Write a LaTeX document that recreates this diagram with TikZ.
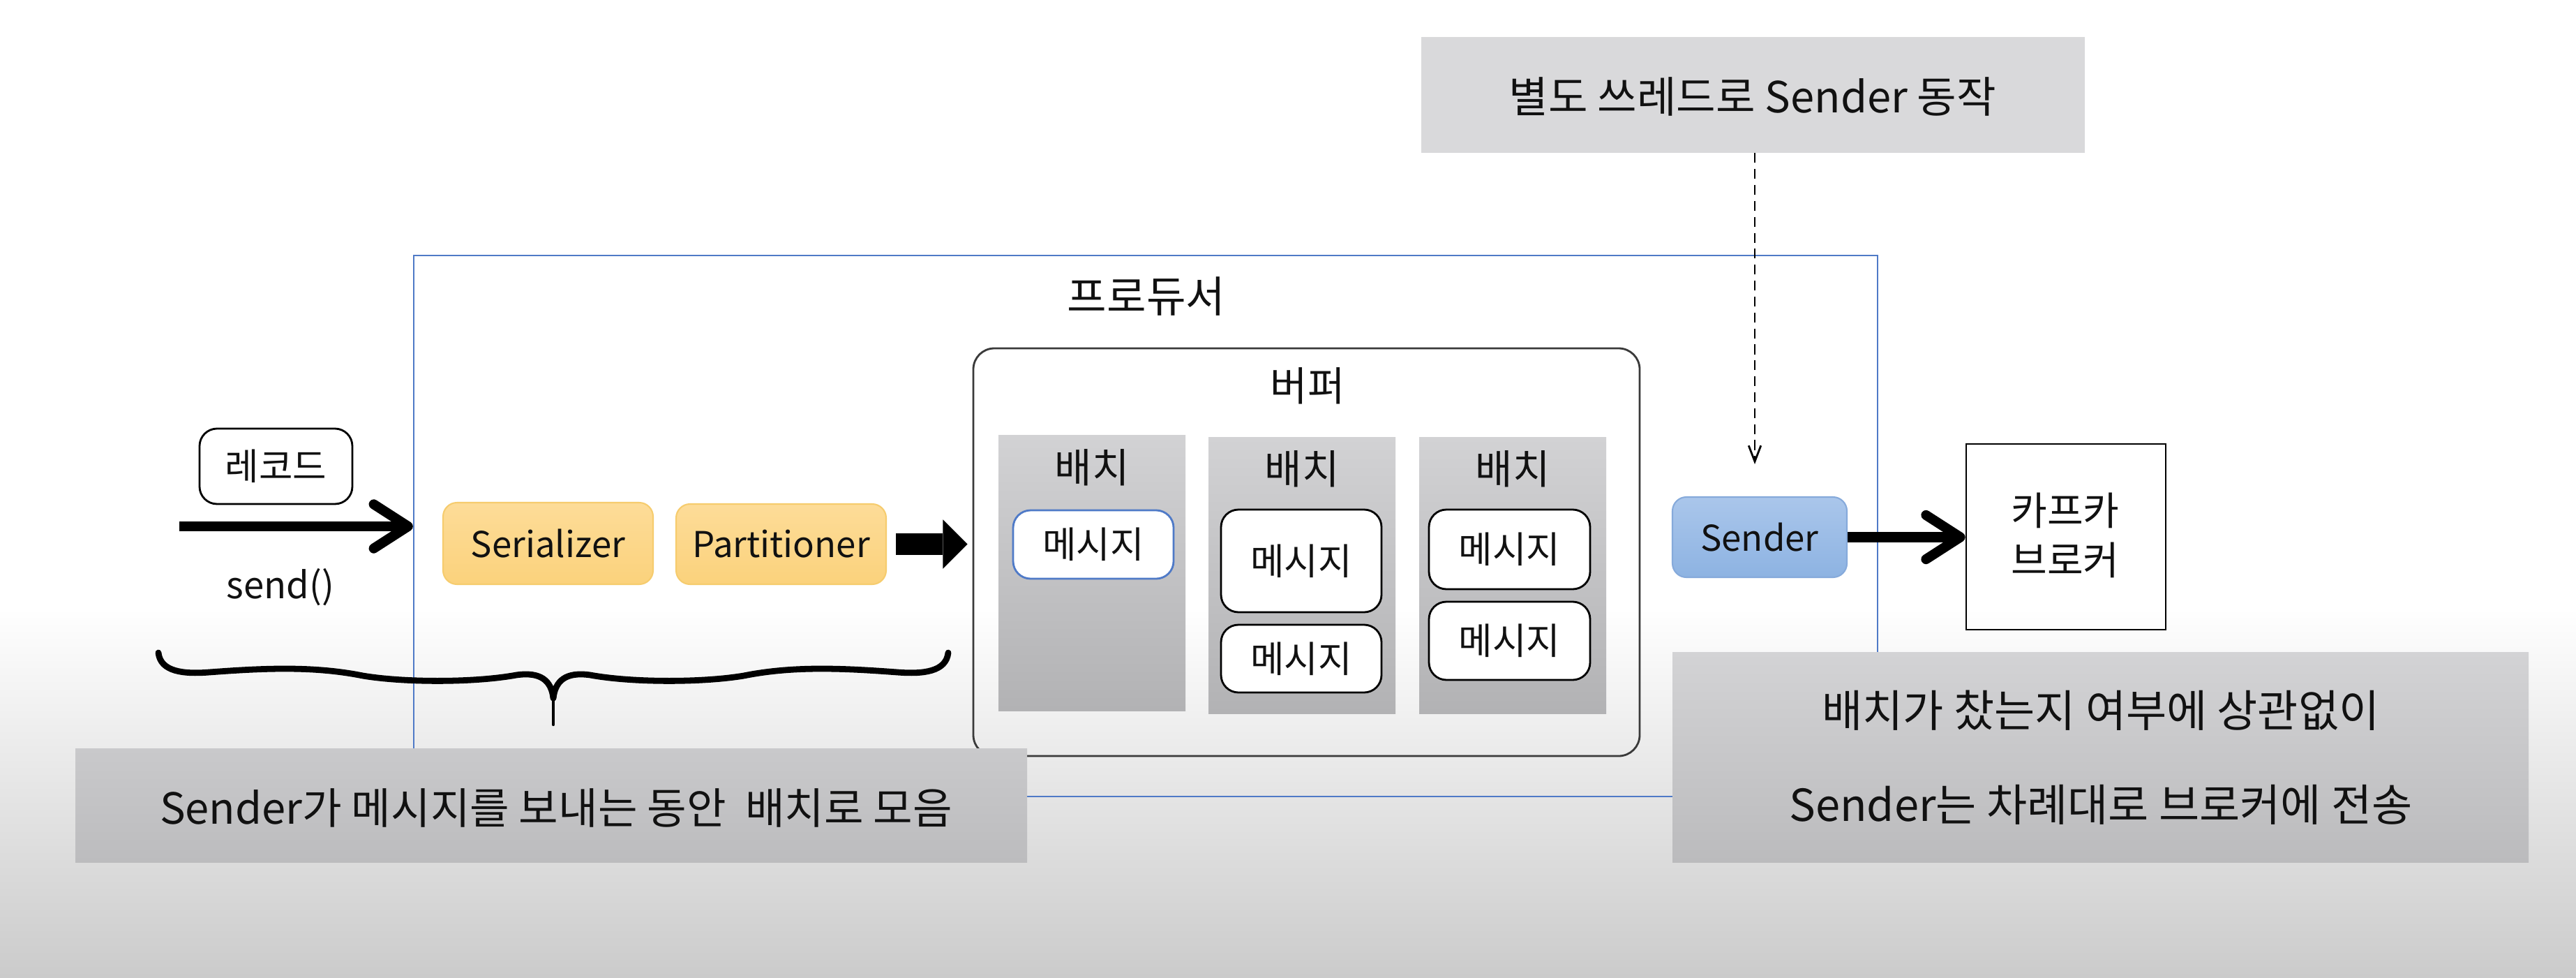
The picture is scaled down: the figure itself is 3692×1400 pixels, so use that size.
\documentclass[tikz,border=0pt]{standalone}
\usepackage{fontspec}
\setmainfont{Noto Sans CJK KR}
\usetikzlibrary{arrows.meta,fit}
\definecolor{prodblue}{HTML}{4F7AC7}
\definecolor{bgbot}{HTML}{CBCBCB}
\definecolor{notetop}{HTML}{D9D9DB}
\definecolor{blTop}{HTML}{C9C9CB}
\definecolor{blBot}{HTML}{BCBCBE}
\definecolor{brTop}{HTML}{D3D3D5}
\definecolor{brBot}{HTML}{BBBBBD}
\definecolor{batchTop}{HTML}{D2D2D4}
\definecolor{batchBot}{HTML}{B2B2B4}
\definecolor{serTop}{HTML}{FDDC98}
\definecolor{serBot}{HTML}{FBD27C}
\definecolor{serLine}{HTML}{F6CC6E}
\definecolor{sndTop}{HTML}{AAC6EB}
\definecolor{sndBot}{HTML}{8DB3E2}
\definecolor{sndLine}{HTML}{86AADB}
\definecolor{bufLine}{HTML}{3A3A3A}
\definecolor{ink}{HTML}{111111}
\begin{document}
\begin{tikzpicture}[x=0.02cm,y=-0.02cm,
  every node/.style={text=ink},
  fbox/.style={inner sep=0pt},
  notetext/.style={font=\fontsize{35}{77}\selectfont, align=center},
  msgbox/.style={fbox, draw=black, line width=1.6pt, fill=white, rounded corners=0.5cm},
  msgtext/.style={font=\fontsize{30}{34}\selectfont},
  batchbox/.style={fbox, top color=batchTop, bottom color=batchBot},
  yellowbox/.style={fbox, draw=serLine, line width=1.2pt, top color=serTop, bottom color=serBot, rounded corners=0.4cm},
  bluebox/.style={fbox, draw=sndLine, line width=1.2pt, top color=sndTop, bottom color=sndBot, rounded corners=0.4cm},
  engtext/.style={font=\fontsize{29}{34}\selectfont},
  lbl/.style={font=\fontsize{33}{38}\selectfont},
  thickarrow/.style={line width=8pt, -{Straight Barb[length=28pt,width=36pt,round]}},
  blockarrow/.style={line width=17.6pt, -{Triangle[length=20pt,width=40pt,line width=0pt]}},
  brace/.style={line width=5pt, line cap=round, line join=round}
]
\useasboundingbox (0,0) rectangle (3692,1400);
% background
\fill[white] (0,0) rectangle (3692,1400);
\shade[top color=white, bottom color=bgbot] (0,870) rectangle (3692,1400);

% producer frame
\node[fbox, draw=prodblue, line width=1.3pt, fit={(593,366) (2691,1141)}] (producer) {};
\node[font=\fontsize{35}{40}\selectfont] (prodlabel) at (1643,424) {프로듀서};

% buffer
\node[fbox, draw=bufLine, line width=1.6pt, rounded corners=0.6cm, fit={(1395,499) (2350,1083)}] (buffer) {};
\node[lbl] (buflabel) at (1874,553) {버퍼};

% batches
\node[batchbox, fit={(1431,623) (1699,1018)}] (batch1) {};
\node[batchbox, fit={(1732,626) (2000,1022)}] (batch2) {};
\node[batchbox, fit={(2034,626) (2302,1022)}] (batch3) {};
\node[lbl] (b1label) at (1565,670) {배치};
\node[lbl] (b2label) at (1866,672) {배치};
\node[lbl] (b3label) at (2168,672) {배치};

% messages
\node[msgbox, draw=prodblue, fit={(1452,731) (1682,829)}] (m11) {};
\node[msgbox, fit={(1750,730) (1980,877)}] (m21) {};
\node[msgbox, fit={(1750,895) (1980,992)}] (m22) {};
\node[msgbox, fit={(2048,730) (2279,844)}] (m31) {};
\node[msgbox, fit={(2048,862) (2279,974)}] (m32) {};
\node[msgtext] (m11t) at (m11.center) {메시지};
\node[msgtext] (m21t) at (m21.center) {메시지};
\node[msgtext] (m22t) at (m22.center) {메시지};
\node[msgtext] (m31t) at (m31.center) {메시지};
\node[msgtext] (m32t) at (m32.center) {메시지};

% record
\node[msgbox, fit={(286,614) (505,722)}] (record) {};
\node[msgtext] (recordt) at (record.center) {레코드};
\coordinate (recstart) at (257,754);
\draw[thickarrow] (recstart) -- (recstart -| producer.west);
\node[font=\fontsize{30}{34}\selectfont] (send) at (402,841) {send()};

% serializer, partitioner
\node[yellowbox, fit={(635,720) (936,837)}] (serializer) {};
\node[engtext] (sert) at (serializer.center) {Serializer};
\node[yellowbox, fit={(969,722) (1270,837)}] (partitioner) {};
\node[engtext] (partt) at (partitioner.center) {Partitioner};
\draw[blockarrow, shorten <=7.4pt, shorten >=4pt] (partitioner.east) -- (buffer.west |- partitioner.east);

% sender and broker
\node[bluebox, fit={(2397,712) (2647,827)}] (sender) {};
\node[engtext] (sendert) at (sender.center) {Sender};
\node[fbox, draw=black, line width=1.6pt, fit={(2818,636) (3104,902)}] (kafka) {};
\node[align=center, font=\fontsize{32}{40}\selectfont] (kafkat) at (2960,767) {카프카\\브로커};
\draw[thickarrow] (sender.east) -- (sender.east -| kafka.west);

% top note and dashed arrow
\node[fbox, fill=notetop, fit={(2037,53) (2988,219)}] (topnote) {};
\node[notetext] (topnotet) at (2512,138) {별도 쓰레드로 Sender 동작};
\coordinate (dtip) at (2515,665);
\draw[line width=1.6pt, dash pattern=on 8pt off 5pt, -{Straight Barb[length=13pt,width=10pt]}] (topnote.south -| dtip) -- (dtip);

% brace
\draw[brace] (227,935) .. controls (230,962) and (262,966) .. (300,963)
  .. controls (380,957) and (450,954) .. (520,968)
  .. controls (580,978) and (680,978) .. (740,967)
  .. controls (775,962) and (790,975) .. (793,1000);
\draw[brace] (1359,935) .. controls (1356,962) and (1324,966) .. (1286,963)
  .. controls (1206,957) and (1136,954) .. (1066,968)
  .. controls (1006,978) and (906,978) .. (846,967)
  .. controls (811,962) and (796,975) .. (793,1000);
\draw[line width=2.5pt, line cap=round] (793,990) -- (793,1038);

% bottom notes
\node[fbox, top color=blTop, bottom color=blBot, fit={(108,1072) (1472,1235)}] (leftnote) {};
\node[notetext] (leftnotet) at (797,1157) {Sender가 메시지를 보내는 동안~~배치로 모음};
\node[fbox, top color=brTop, bottom color=brBot, fit={(2397,934) (3624,1235)}] (rightnote) {};
\node[notetext, font=\fontsize{36}{77}\selectfont] (rightnotet) at (3011,1085) {배치가 찼는지 여부에 상관없이\\Sender는 차례대로 브로커에 전송};
\end{tikzpicture}
\end{document}
